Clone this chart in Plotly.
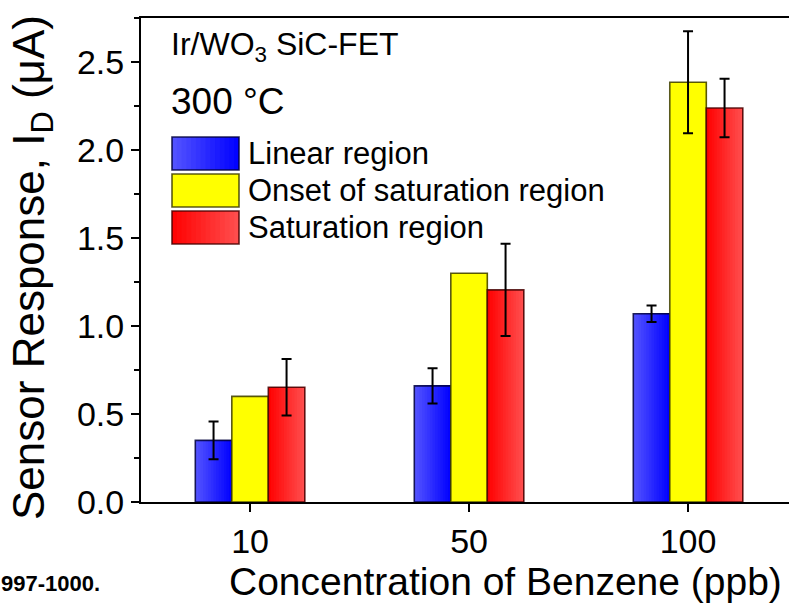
import plotly.graph_objects as go

# Benzene response of an Ir/WO3 SiC-FET at 300 °C
concentrations = ["10", "50", "100"]
series_names = ["Linear region", "Onset of saturation region", "Saturation region"]
linear_vals = [0.35, 0.66, 1.07]
linear_err = [0.107, 0.10, 0.047]
onset_vals = [0.60, 1.30, 2.385]
onset_err = [None, None, 0.29]
saturation_vals = [0.652, 1.205, 2.239]
saturation_err = [0.161, 0.262, 0.166]

FONT = "Liberation Sans, Arial, sans-serif"
W, H = 789, 612
L, R, T, B = 141, 0, 18, 110
PW, PH = W - L - R, H - T - B

x_pos = list(range(len(concentrations)))
bar_w = 0.1667
offsets = [-1.5 * bar_w, -0.5 * bar_w, 0.5 * bar_w]

# left-to-right fill gradients (start colour, end colour)
gradients = [((85, 85, 255), (0, 0, 255)),
             ((255, 255, 0), (255, 255, 0)),
             ((255, 0, 0), (255, 80, 80))]
outline = ["rgba(0,0,60,0.85)", "rgba(60,60,0,0.85)", "rgba(70,0,0,0.85)"]
values = [linear_vals, onset_vals, saturation_vals]
errors = [linear_err, onset_err, saturation_err]

N_SLICES = 14


def mix(c0, c1, t):
    return "rgb({},{},{})".format(*[round(a + (b - a) * t) for a, b in zip(c0, c1)])


fig = go.Figure()
for s in range(3):
    c0, c1 = gradients[s]
    # gradient fill: each slice runs to the right edge of the bar, later slices on top
    for k in range(N_SLICES):
        frac = k / N_SLICES
        fig.add_trace(go.Bar(
            x=x_pos, y=values[s],
            offset=offsets[s] + frac * bar_w,
            width=bar_w * (1 - frac),
            marker=dict(color=mix(c0, c1, (k + 0.5) / N_SLICES), line=dict(width=0)),
            showlegend=False, hoverinfo="skip",
        ))
    # outline
    fig.add_trace(go.Bar(
        x=x_pos, y=values[s], name=series_names[s],
        offset=offsets[s], width=bar_w,
        marker=dict(color="rgba(0,0,0,0)", line=dict(width=1.6, color=outline[s])),
        showlegend=False,
    ))
    # error bars only where a spread was measured
    keep = [i for i, e in enumerate(errors[s]) if e is not None]
    fig.add_trace(go.Bar(
        x=[x_pos[i] for i in keep], y=[values[s][i] for i in keep],
        offset=offsets[s], width=bar_w,
        marker=dict(color="rgba(0,0,0,0)", line=dict(width=0)),
        error_y=dict(type="data", array=[errors[s][i] for i in keep], visible=True,
                     color="black", thickness=2, width=5),
        showlegend=False, hoverinfo="skip",
    ))

# legend drawn as large gradient swatches
lg_x0, lg_x1 = 172, 239
lg_rows = [(137, 170), (174, 207), (211, 244)]
lg_text_x = 246


def px_x(p):
    return (p - L) / PW


def px_y(p):
    return (H - B - p) / PH


shapes = []
annotations = []
for s, (y0, y1) in enumerate(lg_rows):
    c0, c1 = gradients[s]
    for k in range(N_SLICES):
        frac = k / N_SLICES
        shapes.append(dict(type="rect", xref="paper", yref="paper",
                           x0=px_x(lg_x0 + frac * (lg_x1 - lg_x0)), x1=px_x(lg_x1),
                           y0=px_y(y1), y1=px_y(y0),
                           fillcolor=mix(c0, c1, (k + 0.5) / N_SLICES),
                           line=dict(width=0), layer="above"))
    shapes.append(dict(type="rect", xref="paper", yref="paper",
                       x0=px_x(lg_x0), x1=px_x(lg_x1), y0=px_y(y1), y1=px_y(y0),
                       fillcolor="rgba(0,0,0,0)",
                       line=dict(width=1.6, color=outline[s]), layer="above"))
    annotations.append(dict(text=series_names[s], xref="paper", yref="paper",
                            x=px_x(lg_text_x), y=px_y((y0 + y1) / 2),
                            xanchor="left", yanchor="middle", showarrow=False,
                            font=dict(size=31, color="black", family=FONT)))

annotations += [
    dict(text="Ir/WO<sub>3</sub> SiC-FET", xref="paper", yref="paper",
         x=px_x(169), y=px_y(46), xanchor="left", yanchor="middle", showarrow=False,
         font=dict(size=32, color="black", family=FONT)),
    dict(text="300 °C", xref="paper", yref="paper",
         x=px_x(169), y=px_y(102), xanchor="left", yanchor="middle", showarrow=False,
         font=dict(size=37, color="black", family=FONT)),
    dict(text="Concentration of Benzene (ppb)", xref="paper", yref="paper",
         x=px_x(505), y=px_y(581), xanchor="center", yanchor="middle", showarrow=False,
         font=dict(size=39, color="black", family=FONT)),
    dict(text="Sensor Response, I<sub>D</sub> (μA)", xref="paper", yref="paper",
         x=px_x(32), y=px_y(268), xanchor="center", yanchor="middle", showarrow=False,
         textangle=-90, font=dict(size=44, color="black", family=FONT)),
    dict(text="<b>997-1000.</b>", xref="paper", yref="paper",
         x=px_x(102), y=px_y(583), xanchor="right", yanchor="middle", showarrow=False,
         font=dict(size=22, color="black", family=FONT)),
]

fig.update_layout(
    width=W, height=H,
    margin=dict(l=L, r=R, t=T, b=B),
    paper_bgcolor="white", plot_bgcolor="white",
    barmode="overlay",
    showlegend=False,
    shapes=shapes, annotations=annotations,
    font=dict(family=FONT, color="black"),
)
fig.update_xaxes(
    range=[-0.498, 2.461], tickvals=x_pos, ticktext=concentrations,
    showline=True, linecolor="black", linewidth=2, mirror=True,
    ticks="outside", ticklen=8, tickwidth=2, tickcolor="black",
    tickfont=dict(size=34, family=FONT), showgrid=False, zeroline=False,
)
fig.update_yaxes(
    range=[0, 2.75], tickvals=[0, 0.5, 1.0, 1.5, 2.0, 2.5],
    ticktext=["0.0", "0.5", "1.0", "1.5", "2.0", "2.5"],
    showline=True, linecolor="black", linewidth=2,
    ticks="outside", ticklen=8, tickwidth=2, tickcolor="black",
    minor=dict(dtick=0.25, ticks="outside", ticklen=5, tickwidth=2, tickcolor="black"),
    tickfont=dict(size=34, family=FONT), showgrid=False, zeroline=False,
)

fig.write_html("out.html")
